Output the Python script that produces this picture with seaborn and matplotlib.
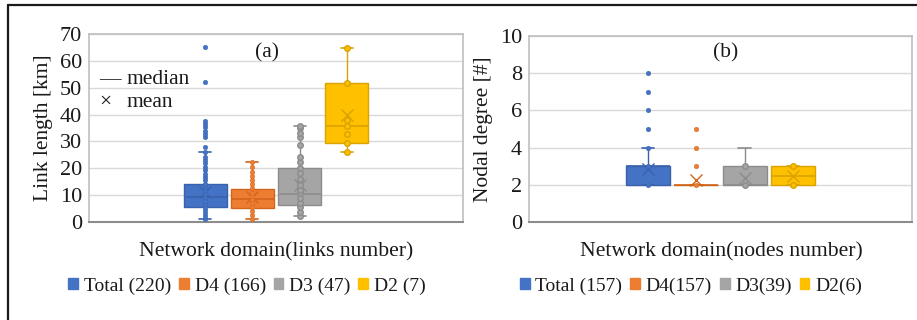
import matplotlib
matplotlib.use("Agg")
import matplotlib.pyplot as plt
from matplotlib.patches import Patch
from matplotlib.lines import Line2D
import numpy as np
import pandas as pd
import seaborn as sns

# ---- data -------------------------------------------------------------
domains = ["Total", "D4", "D3", "D2"]
colors = ["#4472C4", "#ED7D31", "#A5A5A5", "#FFC000"]
dark = ["#3A62AC", "#D0661C", "#8C8C8C", "#D9A300"]

# (a) link length [km]
links_labels = ["Total (220)", "D4 (166)", "D3 (47)", "D2 (7)"]
links_q1 = [5.6, 5.2, 6.3, 29.3]
links_med = [9.4, 8.4, 10.3, 35.7]
links_q3 = [14.3, 12.2, 20.0, 51.9]
links_lo = [1.1, 1.0, 2.2, 26.2]
links_hi = [26.1, 22.2, 35.7, 64.9]
links_mean = [11.2, 9.2, 13.8, 39.8]
links_pts = {
    "Total": [1.1, 2.2, 3.4, 4.6, 5.6, 6.8, 8.0, 9.3, 10.5, 11.8, 13.0, 14.3,
              15.5, 16.8, 18.0, 19.3, 20.5, 21.8, 23.0, 24.3, 26.1,
              28.0, 31.5, 32.8, 34.0, 35.2, 36.5, 37.7, 52.0, 65.0],
    "D4": [1.0, 2.6, 4.2, 5.7, 7.0, 8.4, 9.7, 10.9, 12.5, 14.0, 15.6, 17.2,
           18.7, 20.6, 22.2],
    "D3": [2.2, 3.8, 5.5, 7.2, 8.8, 10.7, 11.9, 13.8, 15.9, 18.1, 20.0, 22.5,
           24.3, 28.7, 31.5, 33.0, 34.9, 35.7],
    "D2": [26.2, 29.3, 32.6, 35.7, 38.0, 51.9, 64.9],
}

# (b) nodal degree [#]
nodes_labels = ["Total (157)", "D4(157)", "D3(39)", "D2(6)"]
nodes_q1 = [2, 2, 2, 2]
nodes_med = [3, 2, 2, 2.5]
nodes_q3 = [3, 2, 3, 3]
nodes_lo = [2, 2, 2, 2]
nodes_hi = [4, 2, 4, 3]
nodes_mean = [2.83, 2.27, 2.38, 2.5]
nodes_pts = {
    "Total": [2, 3, 4, 5, 6, 7, 8],
    "D4": [2, 3, 4, 5],
    "D3": [2, 3],
    "D2": [2, 3],
}

# ---- style ------------------------------------------------------------
sns.set_theme(style="white")
plt.rcParams["font.family"] = ["Liberation Serif", "DejaVu Serif"]

INK = "#1a1a1a"
W, H = 917, 320
fig = plt.figure(figsize=(W / 100, H / 100), dpi=100)
fig.patch.set_facecolor("white")

STEP = 0.126      # distance between neighbouring boxes
BOXW = 0.115      # box width
offsets = [(i - 1.5) * STEP for i in range(len(domains))]


def panel(rect, q1, med, q3, lo, hi, mean, pts, ymax, ystep, ylabel,
          tag, tagpos, legend_labels, legend_x):
    ax = fig.add_axes(rect)
    for i in range(len(domains)):
        st = dict(q1=q1[i], med=med[i], q3=q3[i], whislo=lo[i],
                  whishi=hi[i], mean=mean[i], fliers=[])
        ax.bxp([st], positions=[offsets[i]], widths=BOXW, patch_artist=True,
               showmeans=True, showfliers=False, capwidths=BOXW * 0.28,
               boxprops=dict(facecolor=colors[i], edgecolor=dark[i], lw=1.0),
               medianprops=dict(color=dark[i], lw=1.2),
               whiskerprops=dict(color=dark[i], lw=1.0),
               capprops=dict(color=dark[i], lw=1.2),
               meanprops=dict(marker="x", markeredgecolor=dark[i],
                              markersize=8, markeredgewidth=1.0),
               manage_ticks=False, zorder=2)
    # individual points
    for i, d in enumerate(domains):
        df = pd.DataFrame({"value": pts[d]})
        df["pos"] = offsets[i]
        hollow = d in ("D3", "D2")
        sns.scatterplot(data=df, x="pos", y="value", ax=ax,
                        s=16 if hollow else 11, color=colors[i],
                        edgecolor=dark[i], linewidth=1.0 if hollow else 0.3,
                        legend=False, zorder=3)
    ax.set_xlim(-0.5, 0.5)
    ax.set_ylim(0, ymax)
    ax.set_yticks(np.arange(0, ymax + ystep / 2, ystep))
    ax.set_xticks([])
    ax.set_xlabel("")
    ax.yaxis.grid(True, color="#D9D9D9", lw=1.0)
    ax.set_axisbelow(True)
    for s in ["top", "right", "left"]:
        ax.spines[s].set_color("#BFBFBF")
        ax.spines[s].set_linewidth(1.2)
    ax.spines["bottom"].set_color("#8C8C8C")
    ax.spines["bottom"].set_linewidth(1.5)
    ax.tick_params(axis="y", labelsize=16, length=0, pad=5, colors=INK)
    ax.set_ylabel(ylabel, fontsize=15.5, color=INK, labelpad=5)
    ax.text(tagpos[0], tagpos[1], tag, transform=ax.transAxes, fontsize=15.5,
            ha="center", va="center", color=INK)
    handles = [Patch(facecolor=c, edgecolor=c) for c in colors]
    fig.legend(handles, legend_labels, loc="center",
               bbox_to_anchor=(legend_x, 1 - 286 / H), ncol=4, frameon=False,
               fontsize=14, handlelength=0.5, handleheight=0.5,
               handletextpad=0.3, columnspacing=0.4, borderaxespad=0,
               labelcolor=INK)
    return ax


axA = panel([89 / W, 1 - 222 / H, 374 / W, 188 / H],
            links_q1, links_med, links_q3, links_lo, links_hi, links_mean,
            links_pts, 70, 10, "Link length [km]", "(a)", (0.476, 0.899),
            links_labels, 247 / W)
axB = panel([529 / W, 1 - 222 / H, 383 / W, 186 / H],
            nodes_q1, nodes_med, nodes_q3, nodes_lo, nodes_hi, nodes_mean,
            nodes_pts, 10, 2, "Nodal degree [#]", "(b)", (0.514, 0.909),
            nodes_labels, 691 / W)

# x-axis titles
fig.text(276 / W, 1 - 252 / H, "Network domain(links number)", fontsize=15.6,
         ha="center", va="center", color=INK)
fig.text(721 / W, 1 - 252 / H, "Network domain(nodes number)", fontsize=15.6,
         ha="center", va="center", color=INK)

# median / mean key in panel (a)
axA.text(0.027, 0.76, "—", transform=axA.transAxes, fontsize=15.5,
         va="center", ha="left", color=INK)
axA.text(0.099, 0.76, "median", transform=axA.transAxes, fontsize=15.5,
         va="center", ha="left", color=INK)
axA.text(0.027, 0.638, "×", transform=axA.transAxes, fontsize=15.5,
         va="center", ha="left", color=INK)
axA.text(0.099, 0.638, "mean", transform=axA.transAxes, fontsize=15.5,
         va="center", ha="left", color=INK)

# outer frame (top and left edges)
fig.add_artist(Line2D([8 / W, 1], [1 - 5 / H, 1 - 5 / H], color=INK,
                      lw=1.6, transform=fig.transFigure))
fig.add_artist(Line2D([8 / W, 8 / W], [0, 1 - 5 / H], color=INK,
                      lw=1.6, transform=fig.transFigure))

fig.savefig("out.png", dpi=100, facecolor="white")
